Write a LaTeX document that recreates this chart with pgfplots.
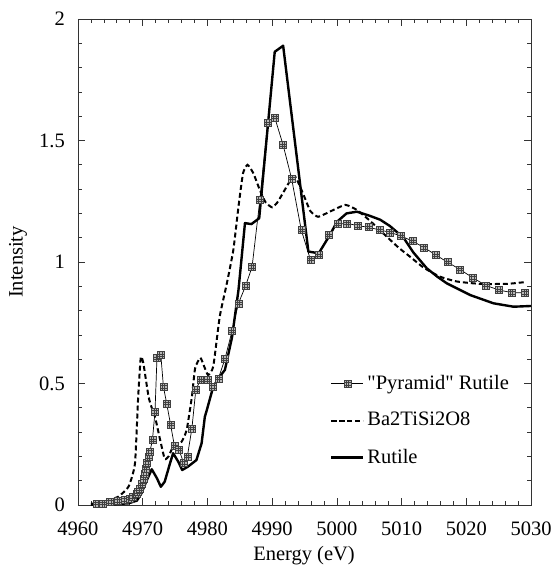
\documentclass[border=0pt]{standalone}
\usepackage{fontspec}
\setmainfont{Liberation Serif}
\font\qf="Liberation Serif" at 20.5pt
\usepackage{pgfplots}
\pgfplotsset{compat=1.18}
\pgfdeclareplotmark{gridsq}{%
  \pgfpathrectangle{\pgfqpoint{-\pgfplotmarksize}{-\pgfplotmarksize}}{\pgfqpoint{2\pgfplotmarksize}{2\pgfplotmarksize}}%
  \pgfusepathqfillstroke
  \pgfpathmoveto{\pgfqpoint{-0.33\pgfplotmarksize}{-\pgfplotmarksize}}\pgfpathlineto{\pgfqpoint{-0.33\pgfplotmarksize}{\pgfplotmarksize}}%
  \pgfpathmoveto{\pgfqpoint{0.33\pgfplotmarksize}{-\pgfplotmarksize}}\pgfpathlineto{\pgfqpoint{0.33\pgfplotmarksize}{\pgfplotmarksize}}%
  \pgfpathmoveto{\pgfqpoint{-\pgfplotmarksize}{-0.33\pgfplotmarksize}}\pgfpathlineto{\pgfqpoint{\pgfplotmarksize}{-0.33\pgfplotmarksize}}%
  \pgfpathmoveto{\pgfqpoint{-\pgfplotmarksize}{0.33\pgfplotmarksize}}\pgfpathlineto{\pgfqpoint{\pgfplotmarksize}{0.33\pgfplotmarksize}}%
  \pgfusepathqstroke
}
\begin{document}
\fontsize{20.5}{24}\selectfont
\begin{tikzpicture}
\useasboundingbox (-78pt,-60pt) rectangle (478pt,505pt);
\begin{axis}[
  at={(0pt,0pt)}, anchor=south west,
  scale only axis,
  width=453pt, height=486pt,
  xmin=4960, xmax=5030, ymin=0, ymax=2,
  xtick={4960,4970,...,5030},
  ytick={0,0.5,1,1.5,2},
  minor x tick num=4,
  minor y tick num=4,
  scaled x ticks=false,
  /pgf/number format/1000 sep={},
  /pgf/number format/assume math mode=true,
  major tick length=7pt, minor tick length=4pt,
  tick style={black!80, line width=0.7pt},
  axis line style={black!80, line width=0.8pt},
  xticklabel style={inner sep=0pt, anchor=north, yshift=-17pt},
  yticklabel style={inner sep=0pt, xshift=-13pt},
  xlabel={Energy (eV)},
  ylabel={Intensity},
  xlabel style={inner sep=0pt, at={(axis description cs:0.499,-0.1132)}, anchor=base},
  ylabel style={inner sep=0pt, at={(axis description cs:-0.1325,0.5)}, anchor=center},
  legend style={at={(axis description cs:0.556,0.268)}, anchor=north west, draw=none, fill=none, row sep=20pt, font=\fontsize{20.5}{24}\selectfont, inner sep=0pt, nodes={inner xsep=3pt, inner ysep=0pt}},
  legend cell align=left,
  legend image code/.code={\draw[mark repeat=2,mark phase=2,#1] plot coordinates {(0pt,0pt) (16pt,0pt) (32pt,0pt)};},
]
\addplot[black, line width=0.7pt, mark=gridsq, mark size=3.5pt, mark options={solid, fill=gray!55, draw=black!75, line width=0.5pt}] coordinates {
(4962.9,0.007) (4963.9,0.007) (4964.9,0.014) (4966.2,0.018) (4967.3,0.021) (4968.0,0.027)
(4968.5,0.034) (4969.1,0.045) (4969.3,0.055) (4969.6,0.065) (4969.8,0.086) (4970.2,0.11)
(4970.3,0.128) (4970.4,0.151) (4970.6,0.174) (4970.9,0.199) (4971.1,0.219) (4971.5,0.267)
(4971.9,0.384) (4972.2,0.604) (4972.8,0.617) (4973.2,0.487) (4973.7,0.418) (4974.3,0.332)
(4974.9,0.243) (4975.6,0.229) (4976.3,0.174) (4976.9,0.20) (4977.6,0.315) (4978.2,0.473)
(4978.9,0.514) (4979.6,0.514) (4980.1,0.514) (4980.8,0.487) (4981.7,0.521) (4982.7,0.60)
(4983.8,0.716) (4984.8,0.83) (4985.9,0.902) (4986.9,0.98) (4988.1,1.255) (4989.3,1.571)
(4990.4,1.595) (4991.7,1.481) (4993.0,1.344) (4994.5,1.132) (4995.9,1.011) (4997.2,1.029)
(4998.7,1.111) (5000.1,1.156) (5001.6,1.159) (5003.3,1.149) (5004.9,1.143) (5006.6,1.132)
(5008.2,1.122) (5009.9,1.107) (5011.7,1.086) (5013.5,1.059) (5015.3,1.029) (5017.1,0.999)
(5019.0,0.97) (5021.0,0.935) (5023.0,0.904) (5025.0,0.885) (5027.0,0.874) (5029.1,0.873)
};
\addlegendentry{{\qf"}Pyramid{\qf"} Rutile}
\addplot[black, line width=2pt, dash pattern=on 5pt off 3pt, smooth, tension=0.3] coordinates {
(4962.0,0.005) (4964.0,0.012) (4966.2,0.034) (4967.8,0.075) (4968.8,0.17) (4969.3,0.446)
(4969.7,0.608) (4970.1,0.583) (4970.9,0.446) (4971.4,0.40) (4971.9,0.363) (4972.7,0.267)
(4973.4,0.19) (4974.0,0.20) (4974.7,0.24) (4976.0,0.26) (4976.8,0.31) (4977.6,0.446)
(4978.1,0.563) (4978.9,0.606) (4979.5,0.57) (4980.1,0.535) (4980.9,0.57) (4981.9,0.775)
(4983.0,0.912) (4984.0,1.049) (4984.8,1.228) (4985.5,1.365) (4986.2,1.40) (4987.1,1.365)
(4988.1,1.296) (4989.0,1.245) (4990.0,1.225) (4990.8,1.245) (4991.7,1.285) (4992.8,1.335)
(4993.6,1.35) (4994.8,1.28) (4995.9,1.21) (4997.1,1.186) (4998.9,1.207) (5001.3,1.235)
(5003.1,1.214) (5005.1,1.17) (5007.0,1.122) (5009.5,1.06) (5011.3,1.022) (5013.4,0.977)
(5015.9,0.94) (5018.5,0.92) (5022.1,0.91) (5026.3,0.91) (5029.3,0.918)
};
\addlegendentry{Ba2TiSi2O8}
\addplot[black, line width=2.4pt, line join=round] coordinates {
(4962.0,0.0) (4964.0,0.002) (4966.0,0.004) (4967.8,0.007) (4969.1,0.018) (4969.8,0.048)
(4970.6,0.10) (4971.4,0.147) (4972.2,0.11) (4972.8,0.075) (4973.4,0.096) (4974.2,0.17)
(4974.7,0.213) (4975.5,0.178) (4976.1,0.144) (4977.0,0.158) (4978.3,0.185) (4979.1,0.254)
(4979.6,0.363) (4979.9,0.39) (4980.9,0.487) (4981.9,0.528) (4982.7,0.556) (4983.8,0.69)
(4984.8,0.885) (4985.8,1.16) (4986.8,1.156) (4988.0,1.18) (4990.4,1.865) (4991.7,1.89)
(4995.6,1.043) (4997.2,1.036) (4998.9,1.11) (5000.0,1.165) (5001.5,1.20) (5003.1,1.207)
(5005.1,1.19) (5006.7,1.174) (5008.2,1.148) (5010.3,1.10) (5011.8,1.04) (5013.9,0.974)
(5015.5,0.94) (5017.0,0.912) (5020.6,0.864) (5024.2,0.83) (5027.3,0.816) (5030.0,0.819)
};
\addlegendentry{Rutile}
\end{axis}
\end{tikzpicture}
\end{document}
